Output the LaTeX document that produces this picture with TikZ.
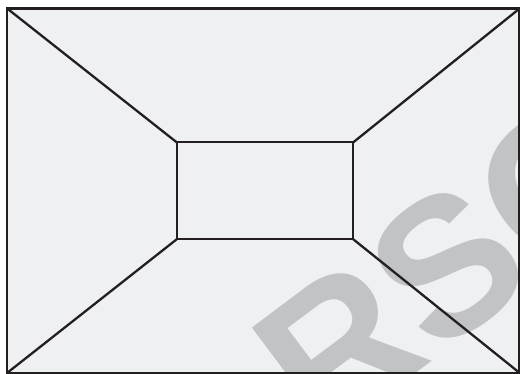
\documentclass[tikz,border=0pt]{standalone}
\usepackage{fontspec}
\newfontfamily\wmfont{Liberation Sans}
\definecolor{bg}{HTML}{EFF0F2}
\definecolor{ink}{HTML}{231F20}
\definecolor{wmgray}{HTML}{C2C3C5}
\begin{document}
\begin{tikzpicture}[x=1pt,y=-1pt,
  edge/.style={draw=ink, line width=2.3pt},
  wmtext/.style={text=wmgray, inner sep=0pt, outer sep=0pt, rotate=36.87,
    font=\wmfont\bfseries\fontsize{195.5pt}{200pt}\selectfont},
  frontbox/.style={draw=ink, line width=2.3pt, inner sep=0pt, outer sep=0pt,
    minimum width=176.6pt, minimum height=97pt}]
\useasboundingbox (0,0) rectangle (520,374);
\coordinate (otl) at (7.3,8.6);
\coordinate (otr) at (519.5,8.6);
\coordinate (obr) at (519.5,372.8);
\coordinate (obl) at (7.3,372.8);
\fill[bg] (otl) rectangle (obr);
\begin{scope}
  \clip (otl) rectangle (obr);
  \coordinate (wmo) at (322.4,443.2);
  \coordinate (wmp) at (298.4,461.2);
  \node[wmtext, anchor=base east] (wmleft) at (wmp) {PEA};
  \node[wmtext, anchor=base west] (wmright) at (wmo) {RSON};
\end{scope}
\node[frontbox] (inner) at (265,190.8) {};
\draw[edge] (otl) -- (inner.north west);
\draw[edge] (otr) -- (inner.north east);
\draw[edge] (obl) -- (inner.south west);
\draw[edge] (obr) -- (inner.south east);
\draw[edge] (otl) -- (otr) -- (obr) -- (obl) -- cycle;
\end{tikzpicture}
\end{document}
